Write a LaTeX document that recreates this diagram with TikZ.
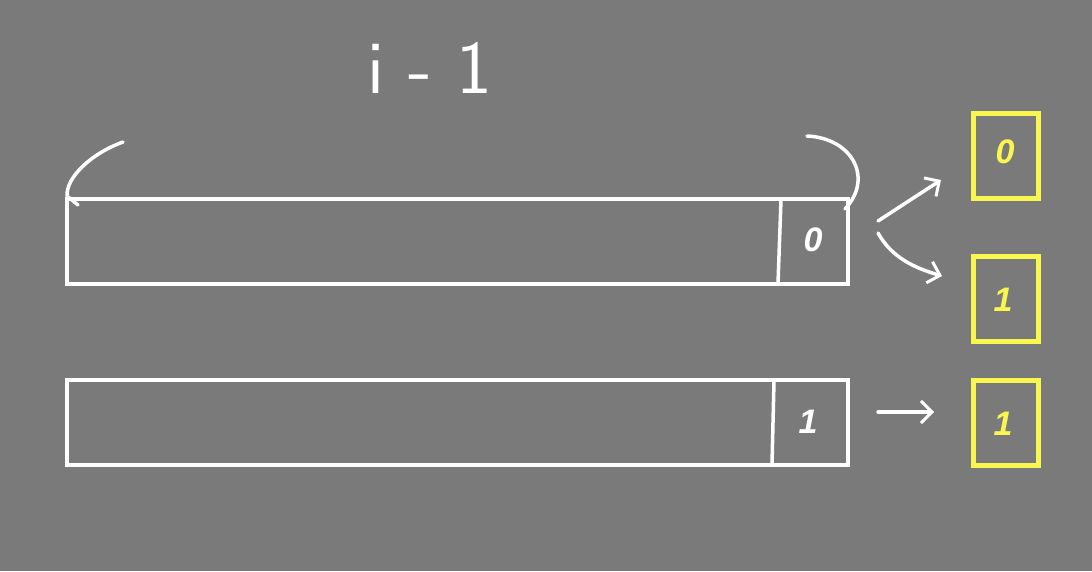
\documentclass[tikz,border=0pt]{standalone}
\usepackage{fontspec}
\setmainfont{Liberation Sans}
\usetikzlibrary{arrows.meta}
\definecolor{bg}{RGB}{122,122,122}
\definecolor{hl}{RGB}{250,246,80}
\begin{document}
\begin{tikzpicture}[x=1pt,y=-1pt,
  bar/.style={draw=white,line width=4pt,minimum width=781pt,minimum height=85pt,inner sep=0pt,outer sep=0pt},
  ybox/.style={draw=hl,line width=5pt,minimum width=65pt,minimum height=85pt,inner sep=0pt},
  wdig/.style={text=white,font=\fontsize{34}{36}\selectfont\bfseries\itshape},
  ydig/.style={text=hl,font=\fontsize{34}{36}\selectfont\bfseries\itshape},
  wline/.style={draw=white,line width=3.5pt,line cap=round,line join=round},
  arr/.style={wline,-{Straight Barb[length=11pt,width=22pt,line width=3pt]}}]
\fill[bg] (0,0) rectangle (1092,571);
\useasboundingbox (0,0) rectangle (1092,571);
% label
\node[text=white,font=\fontsize{76}{80}\selectfont\sffamily] (lbl) at (430,68) {i - 1};
% bars
\node[bar] (bar1) at (457.5,241.5) {};
\node[bar] (bar2) at (457.5,422.5) {};
\draw[wline] (781,200) -- (778,283);
\draw[wline] (774,381) -- (772,464);
\node[wdig] (d1) at (813,240) {0};
\node[wdig] (d2) at (808,422) {1};
% braces
\draw[wline] (123,142) .. controls (90,154) and (66,178) .. (67,196) -- (78,205);
\draw[wline] (807,136) .. controls (852,138) and (874,178) .. (845,209);
% result boxes
\node[ybox] (y1) at (1005.5,156) {};
\node[ybox] (y2) at (1005.5,298.5) {};
\node[ybox] (y3) at (1005.5,423) {};
\node[ydig] (e1) at (1005,152) {0};
\node[ydig] (e2) at (1003,300) {1};
\node[ydig] (e3) at (1003,424) {1};
% arrows
\coordinate (a1s) at (878,221);
\coordinate (a1e) at (941,180);
\coordinate (a2s) at (878,233);
\coordinate (a2e) at (942,276);
\coordinate (a3s) at (878,412);
\coordinate (a3e) at (934,412);
\draw[arr] (a1s) -- (a1e);
\draw[arr] (a2s) .. controls (892,258) and (915,268) .. (a2e);
\draw[arr] (a3s) -- (a3e);
\end{tikzpicture}
\end{document}
